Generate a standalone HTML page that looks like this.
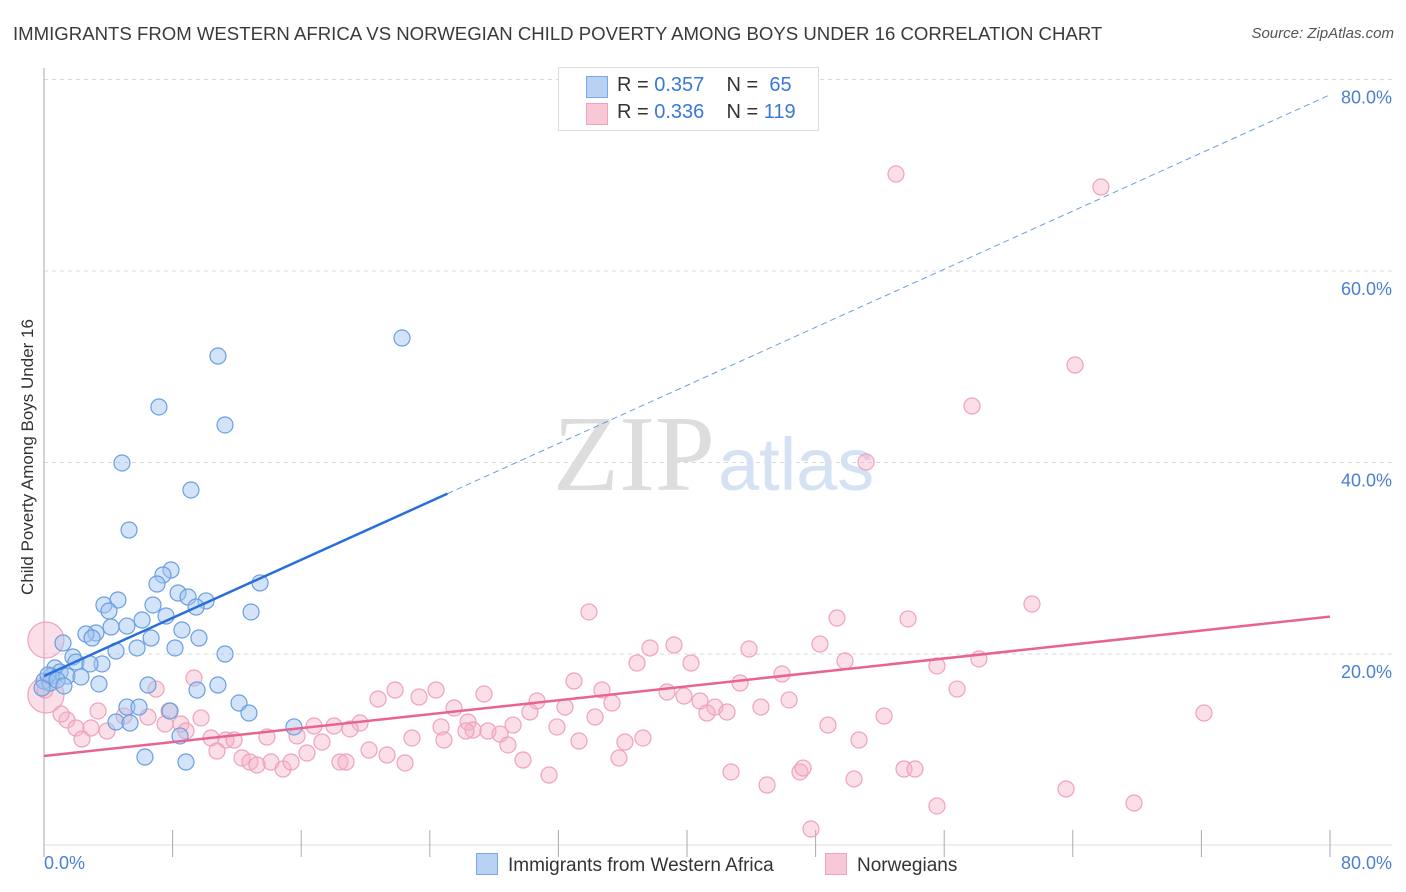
<!DOCTYPE html>
<html><head><meta charset="utf-8"><style>
body{margin:0;background:#fff;font-family:"Liberation Sans",sans-serif;}
#wrap{position:relative;width:1406px;height:892px;overflow:hidden}
.t{position:absolute;white-space:nowrap}
</style></head><body><div id="wrap">
<div class="t" style="left:13px;top:23px;font-size:18.6px;color:#3a3a3a">IMMIGRANTS FROM WESTERN AFRICA VS NORWEGIAN CHILD POVERTY AMONG BOYS UNDER 16 CORRELATION CHART</div>
<div class="t" style="right:12px;top:25px;font-size:15px;color:#555;font-style:italic">Source: ZipAtlas.com</div>
<svg id="svg" width="1406" height="892" style="position:absolute;left:0;top:0"></svg>
</div>
<script>
const xTicks=[0,80];
const yTicks=[20,40,60,80];
const blueX=[], blueY=[], pinkX=[], pinkY=[];
const bluePx=[[218,356],[402,338],[159,407],[225,425],[122,463],[191,490],[129,530],[171,570],[163,575],[157,584],[260,583],[178,593],[188,597],[206,601],[153,605],[104,605],[118,600],[109,611],[196,607],[166,616],[251,612],[142,620],[127,626],[111,627],[182,630],[96,633],[86,634],[92,638],[151,638],[63,643],[199,638],[137,648],[175,648],[116,651],[225,654],[73,657],[76,662],[102,664],[90,664],[55,668],[60,672],[67,676],[51,676],[81,677],[44,681],[99,684],[50,683],[148,685],[218,685],[197,690],[239,703],[127,707],[139,707],[170,711],[249,713],[116,722],[130,723],[294,727],[180,736],[145,757],[186,762],[48,675],[57,680],[42,688],[64,686]];
const pinkPx=[[896,174],[1101,187],[1075,365],[972,406],[866,462],[589,612],[837,618],[908,619],[1032,604],[674,645],[820,644],[650,648],[749,649],[637,663],[691,663],[845,661],[937,666],[979,659],[194,678],[156,689],[574,681],[602,690],[740,683],[782,674],[395,690],[436,690],[484,694],[667,692],[684,696],[957,689],[419,697],[378,699],[537,701],[612,703],[700,701],[715,707],[789,700],[761,707],[454,708],[530,712],[565,707],[727,712],[707,713],[884,716],[1204,713],[595,717],[98,711],[124,716],[148,717],[169,711],[201,718],[67,720],[61,714],[76,728],[91,728],[107,731],[165,724],[181,724],[186,731],[314,726],[334,726],[360,723],[350,729],[441,727],[468,722],[473,730],[513,725],[557,727],[828,725],[466,731],[488,731],[500,734],[82,739],[211,738],[226,740],[234,740],[267,737],[297,736],[322,742],[412,738],[444,740],[579,741],[625,742],[643,738],[859,740],[508,745],[217,751],[242,758],[250,762],[271,762],[257,765],[283,769],[291,762],[307,753],[340,762],[346,762],[369,750],[387,755],[405,763],[523,760],[619,758],[549,775],[731,772],[767,785],[800,772],[803,768],[854,779],[904,769],[915,769],[937,806],[1066,789],[1134,803],[811,829],[46,640],[46,695],[45,690]];
bluePx.forEach(p=>{blueX.push(+((p[0]-44)/16.075).toFixed(2));blueY.push(+((845.5-p[1])/9.575).toFixed(2));});
pinkPx.forEach(p=>{pinkX.push(+((p[0]-44)/16.075).toFixed(2));pinkY.push(+((845.5-p[1])/9.575).toFixed(2));});
const blueLine=[17.7,78.4], blueSolidEnd=25.1;
const pinkLine=[9.35,23.9];
const X=v=>44+v*16.075, Y=v=>845.5-v*9.575;
const svg=document.getElementById('svg');const NS='http://www.w3.org/2000/svg';
function mk(tag,attrs,parent){const e=document.createElementNS(NS,tag);for(const k in attrs)e.setAttribute(k,attrs[k]);(parent||svg).appendChild(e);return e;}
for(const v of yTicks){
 const g=mk('line',{x1:44,x2:1392,y1:Y(v),y2:Y(v),stroke:'#d8d8d8','stroke-dasharray':'4,4'});
 
 
 const t=mk('text',{x:1392,y:Y(v)+24,'text-anchor':'end','font-size':18,fill:'#4a7fd4'});t.textContent=v.toFixed(1)+'%';
 
 
}
mk('line',{x1:44,x2:44,y1:68,y2:845,stroke:'#aaa'});
mk('line',{x1:44,x2:1392,y1:845,y2:845,stroke:'#ddd'});
for(let i=0;i<=10;i++){mk('line',{x1:X(i*8),x2:X(i*8),y1:830,y2:857,stroke:'#aaa'});}
const xl0=mk('text',{x:44,y:869,'font-size':18,fill:'#4a7fd4'});xl0.textContent=xTicks[0].toFixed(1)+'%';


const xl1=mk('text',{x:1392,y:869,'text-anchor':'end','font-size':18,fill:'#4a7fd4'});xl1.textContent=xTicks[1].toFixed(1)+'%';


const yt=mk('text',{x:0,y:0,'font-size':17,fill:'#333',transform:'translate(33,457) rotate(-90)','text-anchor':'middle'});yt.textContent='Child Poverty Among Boys Under 16';


const w1=mk('text',{x:553,y:490,'font-size':108,fill:'#ddd','font-family':'Liberation Serif'});w1.textContent='ZIP';


const w2=mk('text',{x:718,y:490,'font-size':74,fill:'#d4e2f4'});w2.textContent='atlas';


pinkX.forEach((x,i)=>{const big=i>=pinkX.length-3&&i<pinkX.length-1;const c=mk('circle',{cx:X(x),cy:Y(pinkY[i]),r:big?18:8,fill:'rgba(246,176,198,0.4)',stroke:'#f0a2ba','stroke-width':1.2});
 
 });
blueX.forEach((x,i)=>{const c=mk('circle',{cx:X(x),cy:Y(blueY[i]),r:8,fill:'rgba(160,196,240,0.45)',stroke:'#6a9ee2','stroke-width':1.2});
 
 });
const by=x=>blueLine[0]+(blueLine[1]-blueLine[0])*x/80;
const bl=mk('line',{x1:X(0),y1:Y(by(0)),x2:X(blueSolidEnd),y2:Y(by(blueSolidEnd)),stroke:'#2a6fd8','stroke-width':2.5});


const bd=mk('line',{x1:X(blueSolidEnd),y1:Y(by(blueSolidEnd)),x2:X(80),y2:Y(by(80)),stroke:'#6a9ee2','stroke-width':1,'stroke-dasharray':'6,4'});


const pl=mk('line',{x1:X(0),y1:Y(pinkLine[0]),x2:X(80),y2:Y(pinkLine[1]),stroke:'#e8648e','stroke-width':2.5});


</script>
<div class="t" style="left:558px;top:67px;width:259px;height:62px;border:1px solid #ddd;background:#fff;font-size:20px;color:#333">
 <div style="position:absolute;left:27px;top:8px;width:20px;height:20px;background:#b8d2f4;border:1px solid #7aa8e4"></div>
 <div style="position:absolute;left:58px;top:6px">R = <span style="color:#3a78d6">0.357</span>&nbsp;&nbsp;&nbsp; N = &nbsp;<span style="color:#3a78d6">65</span></div>
 <div style="position:absolute;left:27px;top:35px;width:20px;height:20px;background:#f9c8d6;border:1px solid #f0a2ba"></div>
 <div style="position:absolute;left:58px;top:33px">R = <span style="color:#3a78d6">0.336</span>&nbsp;&nbsp;&nbsp; N = <span style="color:#3a78d6">119</span></div>
</div>
<div class="t" style="left:476px;top:853px;font-size:19px;color:#333"><span style="display:inline-block;width:20px;height:20px;background:#b8d2f4;border:1px solid #7aa8e4;vertical-align:-4px;margin-right:10px"></span>Immigrants from Western Africa</div>
<div class="t" style="left:825px;top:853px;font-size:19px;color:#333"><span style="display:inline-block;width:20px;height:20px;background:#f9c8d6;border:1px solid #f0a2ba;vertical-align:-4px;margin-right:10px"></span>Norwegians</div>
</body></html>
